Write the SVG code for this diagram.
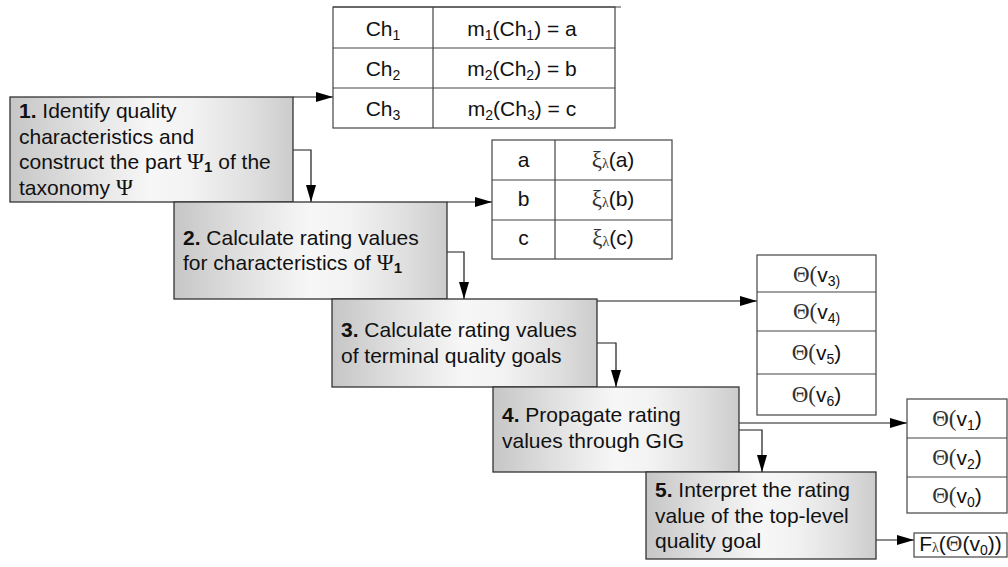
<svg xmlns="http://www.w3.org/2000/svg" width="1008" height="567" viewBox="0 0 1008 567">
  <defs>
    <linearGradient id="boxFill" x1="0" y1="0" x2="1" y2="0">
      <stop offset="0" stop-color="#c6c6c6"/>
      <stop offset="0.25" stop-color="#e0e0e0"/>
      <stop offset="0.5" stop-color="#f7f7f7"/>
      <stop offset="0.65" stop-color="#f2f2f2"/>
      <stop offset="0.85" stop-color="#dfdfdf"/>
      <stop offset="1" stop-color="#cccccc"/>
    </linearGradient>
    <marker id="arrow" markerUnits="userSpaceOnUse" markerWidth="17" markerHeight="10" refX="17" refY="5" orient="auto">
      <path d="M0,0 L17,5 L0,10 Z" fill="#000"/>
    </marker>
  </defs>
  <style>
    .step rect { fill: url(#boxFill); stroke: #333; stroke-width: 1.3; }
    .step text { font-family: "Liberation Sans", Arial, sans-serif; font-size: 21px; fill: #111; }
    .num { font-weight: bold; }
    .grk { font-family: "Liberation Serif", "Times New Roman", serif; font-size: 23px; }
    .cell { fill: #fff; stroke: #444; stroke-width: 1.2; }
    .rule { stroke: #444; stroke-width: 1.2; fill: none; }
    .tbl text { font-family: "Liberation Sans", Arial, sans-serif; font-size: 21px; fill: #111; text-anchor: middle; }
    .sym { font-family: "Liberation Serif", "Times New Roman", serif; fill: #333; font-size: 23px; }
    .sub { font-size: 14px; }
    .conn { stroke: #1a1a1a; stroke-width: 1.2; fill: none; }
  </style>

  <!-- connectors -->
  <g id="connectors">
    <path class="conn" d="M293,97 H333" marker-end="url(#arrow)"/>
    <path class="conn" d="M293,150 H311 V202" marker-end="url(#arrow)"/>
    <path class="conn" d="M447,202 H492" marker-end="url(#arrow)"/>
    <path class="conn" d="M447,252 H464 V299" marker-end="url(#arrow)"/>
    <path class="conn" d="M597,301 H757" marker-end="url(#arrow)"/>
    <path class="conn" d="M597,343 H616 V387" marker-end="url(#arrow)"/>
    <path class="conn" d="M739,423 H907" marker-end="url(#arrow)"/>
    <path class="conn" d="M739,430 H762 V472" marker-end="url(#arrow)"/>
    <path class="conn" d="M876,540 H914" marker-end="url(#arrow)"/>
  </g>

  <!-- process steps -->
  <g id="step1" class="step">
    <rect x="10" y="97" width="283" height="105"/>
    <text x="19" y="118"><tspan class="num">1.</tspan> Identify quality</text>
    <text x="19" y="143.5">characteristics and</text>
    <text x="19" y="169">construct the part <tspan class="grk">Ψ</tspan><tspan class="num" font-size="15" dy="3">1</tspan><tspan dy="-3"> of the</tspan></text>
    <text x="19" y="194.5">taxonomy <tspan class="grk">Ψ</tspan></text>
  </g>
  <g id="step2" class="step">
    <rect x="174" y="202" width="273" height="97"/>
    <text x="183" y="245"><tspan class="num">2.</tspan> Calculate rating values</text>
    <text x="183" y="270">for characteristics of <tspan class="grk">Ψ</tspan><tspan class="num" font-size="15" dy="3">1</tspan></text>
  </g>
  <g id="step3" class="step">
    <rect x="332" y="299" width="265" height="88"/>
    <text x="341" y="337"><tspan class="num">3.</tspan> Calculate rating values</text>
    <text x="341" y="363">of terminal quality goals</text>
  </g>
  <g id="step4" class="step">
    <rect x="493" y="387" width="246" height="85"/>
    <text x="502" y="422"><tspan class="num">4.</tspan> Propagate rating</text>
    <text x="502" y="448">values through GIG</text>
  </g>
  <g id="step5" class="step">
    <rect x="646" y="472" width="230" height="87"/>
    <text x="655" y="497"><tspan class="num">5.</tspan> Interpret the rating</text>
    <text x="655" y="523">value of the top-level</text>
    <text x="655" y="548">quality goal</text>
  </g>

  <!-- characteristic measurements -->
  <g id="measures" class="tbl">
    <rect class="cell" x="333" y="7" width="282" height="121"/>
    <path class="rule" d="M333,7 H621 M333,48 H615 M333,88 H615 M433,7 V128"/>
    <text x="383" y="35.5">Ch<tspan class="sub" dy="4">1</tspan></text>
    <text x="522" y="35.5">m<tspan class="sub" dy="4">1</tspan><tspan dy="-4">(Ch</tspan><tspan class="sub" dy="4">1</tspan><tspan dy="-4">) = a</tspan></text>
    <text x="383" y="75.5">Ch<tspan class="sub" dy="4">2</tspan></text>
    <text x="522" y="75.5">m<tspan class="sub" dy="4">2</tspan><tspan dy="-4">(Ch</tspan><tspan class="sub" dy="4">2</tspan><tspan dy="-4">) = b</tspan></text>
    <text x="383" y="115.5">Ch<tspan class="sub" dy="4">3</tspan></text>
    <text x="522" y="115.5">m<tspan class="sub" dy="4">2</tspan><tspan dy="-4">(Ch</tspan><tspan class="sub" dy="4">3</tspan><tspan dy="-4">) = c</tspan></text>
  </g>

  <!-- rating values of characteristics -->
  <g id="ratings" class="tbl">
    <rect class="cell" x="492" y="140" width="180" height="119"/>
    <path class="rule" d="M492,180 H672 M492,220 H672 M555,140 V259"/>
    <text x="523.5" y="167">a</text>
    <text x="613" y="167"><tspan class="sym">ξ</tspan><tspan class="sym sub" dy="1">λ</tspan><tspan dy="-1">(a)</tspan></text>
    <text x="523.5" y="206">b</text>
    <text x="613" y="206"><tspan class="sym">ξ</tspan><tspan class="sym sub" dy="1">λ</tspan><tspan dy="-1">(b)</tspan></text>
    <text x="523.5" y="245">c</text>
    <text x="613" y="245"><tspan class="sym">ξ</tspan><tspan class="sym sub" dy="1">λ</tspan><tspan dy="-1">(c)</tspan></text>
  </g>

  <!-- terminal goal ratings -->
  <g id="terminal-goals" class="tbl">
    <rect class="cell" x="757" y="255" width="119" height="160"/>
    <path class="rule" d="M757,292 H876 M757,331 H876 M757,374 H876"/>
    <text x="816.5" y="282"><tspan class="sym">Θ(</tspan>v<tspan class="sub" dy="4">3)</tspan></text>
    <text x="816.5" y="319"><tspan class="sym">Θ(</tspan>v<tspan class="sub" dy="4">4)</tspan></text>
    <text x="816.5" y="360"><tspan class="sym">Θ(</tspan>v<tspan class="sub" dy="4">5</tspan><tspan dy="-4">)</tspan></text>
    <text x="816.5" y="402"><tspan class="sym">Θ(</tspan>v<tspan class="sub" dy="4">6</tspan><tspan dy="-4">)</tspan></text>
  </g>

  <!-- propagated goal ratings -->
  <g id="propagated-goals" class="tbl">
    <rect class="cell" x="907" y="399" width="100" height="114"/>
    <path class="rule" d="M907,438 H1007 M907,477 H1007"/>
    <text x="957" y="426"><tspan class="sym">Θ(</tspan>v<tspan class="sub" dy="4">1</tspan><tspan dy="-4">)</tspan></text>
    <text x="957" y="465"><tspan class="sym">Θ(</tspan>v<tspan class="sub" dy="4">2</tspan><tspan dy="-4">)</tspan></text>
    <text x="957" y="502.5"><tspan class="sym">Θ(</tspan>v<tspan class="sub" dy="4">0</tspan><tspan dy="-4">)</tspan></text>
  </g>

  <!-- interpretation result -->
  <g id="interpretation" class="tbl">
    <rect class="cell" x="914" y="533" width="93" height="24"/>
    <text x="960.5" y="551" font-size="20">F<tspan class="sym sub" dy="1">λ</tspan><tspan dy="-1">(</tspan><tspan class="sym" font-size="21">Θ</tspan>(v<tspan class="sub" dy="4">0</tspan><tspan dy="-4">))</tspan></text>
  </g>
</svg>
